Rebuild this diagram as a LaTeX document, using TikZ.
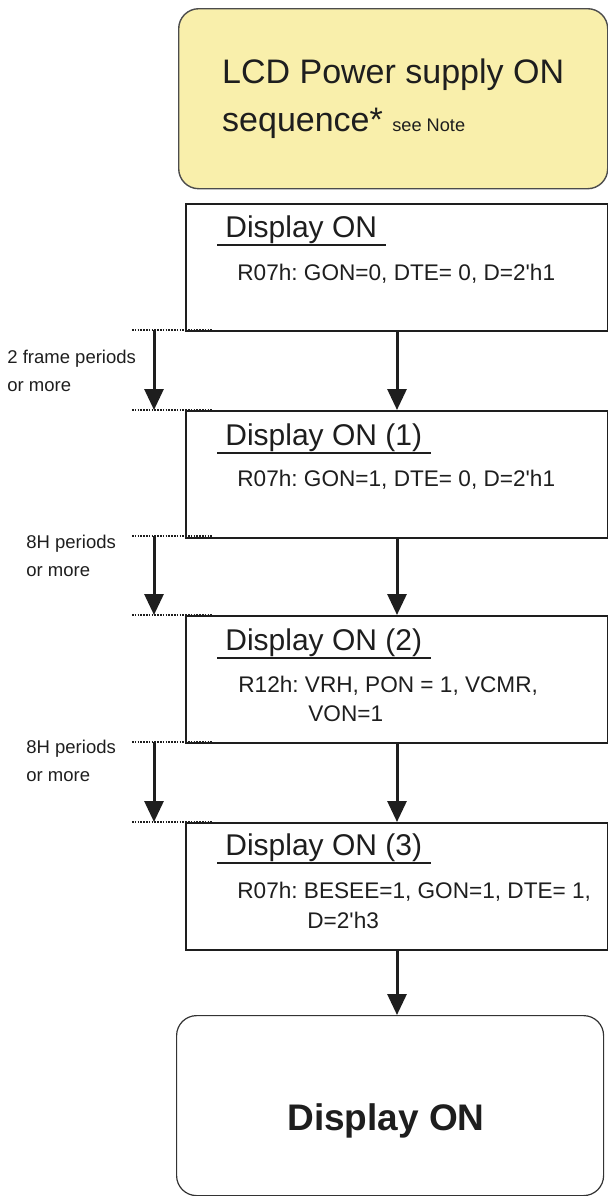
\documentclass[tikz,border=0pt]{standalone}
\usepackage{fontspec}
\setmainfont{Liberation Sans}
\usepackage{tikz}
\usetikzlibrary{positioning, arrows.meta}
\frenchspacing
\definecolor{padyellow}{HTML}{F9EFAB}
\definecolor{ink}{HTML}{1E1E1E}
\tikzset{
x=0.5pt, y=-0.5pt, % one unit is one pixel of the sheet, y runs down
>={Triangle[width=9.5pt,length=10.5pt]}, % big filled heads
every node/.style={text=ink, inner sep=0pt},
start state/.style={draw=black!70, line width=0.7pt, fill=padyellow, rounded corners=10pt, anchor=north west, minimum width=214.5pt, minimum height=90pt, align=left, font=\fontsize{17}{24}\selectfont},
end state/.style={draw=black!80, line width=0.6pt, rounded corners=10pt, anchor=north west, minimum width=213.5pt, minimum height=90pt},
stepbox/.style={draw=ink, line width=1pt, anchor=north west, minimum width=211pt, minimum height=63.5pt},
heading/.style={anchor=base west, inner xsep=4pt, inner ysep=0.5pt, font=\fontsize{15}{18}\selectfont},
regline/.style={anchor=base west, font=\fontsize{11.3}{14}\selectfont},
waitnote/.style={anchor=west, align=left, font=\fontsize{9.25}{14}\selectfont},
flow/.style={->, line width=1.5pt, draw=ink},
tick/.style={draw=ink, line width=0.9pt, dash pattern=on 0.8pt off 0.6pt},
uline/.style={draw=ink, line width=1pt},
}

\begin{document}
\begin{tikzpicture}
\useasboundingbox (0,0) rectangle (608,1196);

\node[start state] (lcd) at (178,8) {LCD Power supply ON\\sequence* {\fontsize{9.1}{24}\selectfont see Note}};

% the four register steps
\node[stepbox] (b1) at (185,203) {};
\node[heading] (h1) at (217,237) {Display ON};
\node[regline] (r1) at (237,280) {R07h: GON=0, DTE= 0, D=2\textquotesingle h1};

\node[stepbox] (b2) at (185,410) {};
\node[heading] (h2) at (217,445) {Display ON (1)};
\node[regline] (r2) at (237,486) {R07h: GON=1, DTE= 0, D=2\textquotesingle h1};

\node[stepbox] (b3) at (185,615) {};
\node[heading] (h3) at (217,650) {Display ON (2)};
\node[regline] (r3) at (238,692) {R12h: VRH, PON = 1, VCMR,};
\node[regline] (r3b) at (308,721) {VON=1};

\node[stepbox] (b4) at (185,822) {};
\node[heading] (h4) at (217,855) {Display ON (3)};
\node[regline] (r4) at (237,898) {R07h: BESEE=1, GON=1, DTE= 1,};
\node[regline] (r4b) at (307,928) {D=2\textquotesingle h3};

\node[end state] (on) at (176,1015) {};
\node[anchor=base, font=\fontsize{18.5}{22}\selectfont\bfseries] (ontext) at (386,1130) {Display ON};

\draw[uline] (h1.south west) -- (h1.south east);
\draw[uline] (h2.south west) -- (h2.south east);
\draw[uline] (h3.south west) -- (h3.south east);
\draw[uline] (h4.south west) -- (h4.south east);

\draw[flow] (b1.south) -- (b2.north);
\draw[flow] (b2.south) -- (b3.north);
\draw[flow] (b3.south) -- (b4.north);
\draw[flow] (b4.south) -- (b4.south |- on.north);

% waiting times on the left
\coordinate (w1) at (132,330);
\coordinate (w2) at (132,410);
\coordinate (w3) at (132,536);
\coordinate (w4) at (132,615);
\coordinate (w5) at (132,742);
\coordinate (w6) at (132,822);
\draw[tick] (w1) -- ++(80,0);
\draw[tick] (w2) -- ++(80,0);
\draw[tick] (w3) -- ++(80,0);
\draw[tick] (w4) -- ++(80,0);
\draw[tick] (w5) -- ++(80,0);
\draw[tick] (w6) -- ++(80,0);
\draw[flow] ([xshift=11pt]w1) -- ([xshift=11pt]w2);
\draw[flow] ([xshift=11pt]w3) -- ([xshift=11pt]w4);
\draw[flow] ([xshift=11pt]w5) -- ([xshift=11pt]w6);

\node[waitnote] (n1) at (7,371) {2 frame periods\\or more};
\node[waitnote] (n2) at (26,556) {8H periods\\or more};
\node[waitnote] (n3) at (26,761) {8H periods\\or more};

\end{tikzpicture}
\end{document}
